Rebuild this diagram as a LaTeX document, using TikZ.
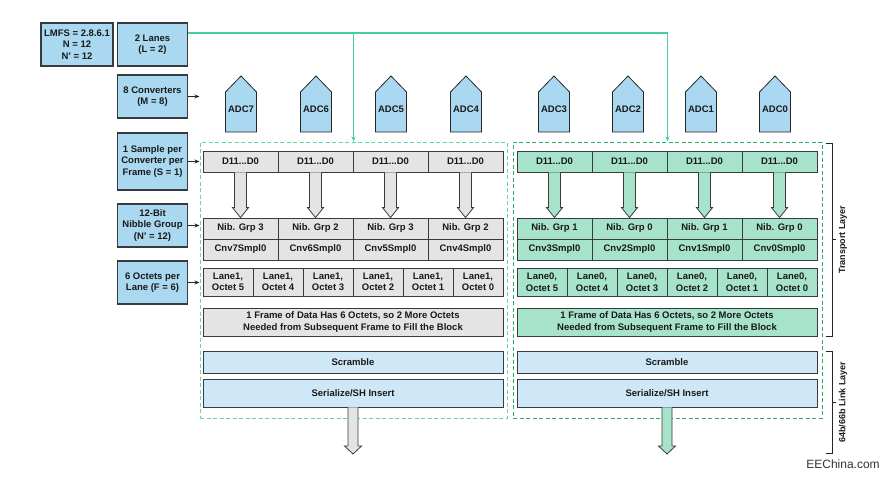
\documentclass[tikz,border=0pt]{standalone}
\usepackage{fontspec}
\setmainfont{Liberation Sans}
\usetikzlibrary{arrows.meta,calc}

\definecolor{edge}{HTML}{363B40}
\definecolor{boxblue}{HTML}{A9D8F0}
\definecolor{linkblue}{HTML}{CFE8F7}
\definecolor{cellgray}{HTML}{E4E4E4}
\definecolor{cellgreen}{HTML}{A6E3CA}
\definecolor{busgreen}{HTML}{45CF98}
\definecolor{dashlite}{HTML}{5FD8A8}
\definecolor{dashdark}{HTML}{2BAA6A}

\tikzset{
  txt/.style={font=\bfseries\fontsize{9.5}{11.5}\selectfont, text=black!90},
  param/.style={txt, draw=edge, fill=boxblue, line width=1.2pt, minimum width=70pt, minimum height=43pt, align=center, inner sep=1pt},
  cell/.style={txt, draw=edge, line width=0.8pt, minimum width=75pt, minimum height=21pt, inner sep=0pt},
  lanecell/.style={cell, minimum width=50pt, minimum height=28pt, align=center},
  wide/.style={cell, minimum width=300pt, align=center},
  adc/.style={draw=black!85, fill=boxblue, line width=0.8pt},
  fat/.style={draw=edge, line width=0.8pt},
  ptr/.style={-{Stealth[length=5pt,width=4pt]}, line width=0.8pt, draw=black!85},
  bus/.style={-{Stealth[length=5pt,width=4pt]}, line width=1.5pt, draw=busgreen},
  lanebox/.style={dashed, dash pattern=on 4pt off 2.5pt, line width=1pt, minimum height=276pt, inner sep=0pt},
  brace/.style={line width=0.9pt, draw=black!85},
  side/.style={font=\bfseries\fontsize{9}{10}\selectfont, text=black!90, rotate=90}
}

\begin{document}
\begin{tikzpicture}[x=1pt,y=-1pt]
\useasboundingbox (0,0) rectangle (888,477);

% parameter boxes
\node[param, minimum width=72pt] (lmfs) at (77,44.5) {LMFS = 2.8.6.1\\N = 12\\N’ = 12};
\node[param] (lanes) at (152.5,44.5) {2 Lanes\\(L = 2)};
\node[param] (conv) at (152.5,96.5) {8 Converters\\(M = 8)};
\node[param, minimum height=57pt] (smpl) at (152.5,161.5) {1 Sample per\\Converter per\\Frame (S = 1)};
\node[param] (nibl) at (152.5,225.5) {12-Bit\\Nibble Group\\(N’ = 12)};
\node[param] (octs) at (152.5,282.5) {6 Octets per\\Lane (F = 6)};

% the two lanes
\node[lanebox, draw=dashlite, minimum width=307pt] (dashL) at (353.5,280) {};
\node[lanebox, draw=dashdark, minimum width=309pt] (dashR) at (667.5,280) {};

\coordinate (bus) at ([yshift=11.5pt]lanes.east);
\draw[bus] (bus) -| (dashR.north);
\draw[bus] (bus -| dashL.north) -- (dashL.north);

\foreach \p in {conv,smpl,nibl,octs}
  \draw[ptr] (\p.east) -- (\p.east -| dashL.west);

% converters
\foreach \n/\x in {7/241,6/316,5/391,4/466,3/554,2/628,1/701,0/775} {
  \filldraw[adc] (\x-15.5,132) -- (\x-15.5,92) -- (\x,76) -- (\x+15.5,92) -- (\x+15.5,132) -- cycle;
  \node[txt] (adc\n) at (\x,109.5) {ADC\n};
}

% lane 1 (gray)
\foreach \i/\g/\k in {0/3/7,1/2/6,2/3/5,3/2/4} {
  \node[cell, fill=cellgray] (dL\i) at (240.5+75*\i,161.5) {D11...D0};
  \node[cell, fill=cellgray] (nL\i) at (240.5+75*\i,228.5) {Nib. Grp \g};
  \node[cell, fill=cellgray] (cL\i) at (240.5+75*\i,249.5) {Cnv\k Smpl0};
  \filldraw[fat, fill=cellgray] ($(dL\i.south)+(-6,0)$) -- ($(nL\i.north)+(-6,-10)$) -- ($(nL\i.north)+(-8,-10)$) -- (nL\i.north)
    -- ($(nL\i.north)+(8,-10)$) -- ($(nL\i.north)+(6,-10)$) -- ($(dL\i.south)+(6,0)$);
}
\foreach \i in {0,...,5} {
  \pgfmathtruncatemacro\o{5-\i}
  \node[lanecell, fill=cellgray] (lL\i) at (228+50*\i,282) {Lane1,\\Octet \o};
}
\node[wide, fill=cellgray, minimum height=28pt] (fL) at (353,322) {1 Frame of Data Has 6 Octets, so 2 More Octets\\Needed from Subsequent Frame to Fill the Block};
\node[wide, fill=linkblue, minimum height=22pt] (sL) at (353,362) {Scramble};
\node[wide, fill=linkblue, minimum height=28pt] (zL) at (353,393) {Serialize/SH Insert};
\coordinate (outL) at (353,454);
\filldraw[fat, fill=cellgray] ($(zL.south)+(-5,0)$) -- ($(outL)+(-5,-8)$) -- ($(outL)+(-8.5,-8)$) -- (outL)
  -- ($(outL)+(8.5,-8)$) -- ($(outL)+(5,-8)$) -- ($(zL.south)+(5,0)$);

% lane 0 (green)
\foreach \i/\g/\k in {0/1/3,1/0/2,2/1/1,3/0/0} {
  \node[cell, fill=cellgreen] (dR\i) at (554.5+75*\i,161.5) {D11...D0};
  \node[cell, fill=cellgreen] (nR\i) at (554.5+75*\i,228.5) {Nib. Grp \g};
  \node[cell, fill=cellgreen] (cR\i) at (554.5+75*\i,249.5) {Cnv\k Smpl0};
  \filldraw[fat, fill=cellgreen] ($(dR\i.south)+(-6,0)$) -- ($(nR\i.north)+(-6,-10)$) -- ($(nR\i.north)+(-8,-10)$) -- (nR\i.north)
    -- ($(nR\i.north)+(8,-10)$) -- ($(nR\i.north)+(6,-10)$) -- ($(dR\i.south)+(6,0)$);
}
\foreach \i in {0,...,5} {
  \pgfmathtruncatemacro\o{5-\i}
  \node[lanecell, fill=cellgreen] (lR\i) at (542+50*\i,282) {Lane0,\\Octet \o};
}
\node[wide, fill=cellgreen, minimum height=28pt] (fR) at (667,322) {1 Frame of Data Has 6 Octets, so 2 More Octets\\Needed from Subsequent Frame to Fill the Block};
\node[wide, fill=linkblue, minimum height=22pt] (sR) at (667,362) {Scramble};
\node[wide, fill=linkblue, minimum height=28pt] (zR) at (667,393) {Serialize/SH Insert};
\coordinate (outR) at (667,454);
\filldraw[fat, fill=cellgreen] ($(zR.south)+(-5,0)$) -- ($(outR)+(-5,-8)$) -- ($(outR)+(-8.5,-8)$) -- (outR)
  -- ($(outR)+(8.5,-8)$) -- ($(outR)+(5,-8)$) -- ($(zR.south)+(5,0)$);

% layers
\draw[brace] (826,143) -- (832,143) -- (832,336) -- (826,336);
\draw[brace] (832,239.5) -- (836,239.5);
\node[side] (tlayer) at (843,239.5) {Transport Layer};
\draw[brace] (826,351) -- (832,351) -- (832,453) -- (826,453);
\draw[brace] (832,402) -- (836,402);
\node[side] (llayer) at (843,402) {64b/66b Link Layer};

\node[font=\fontsize{12}{14}\selectfont, text=black!80] (src) at (843,464) {EEChina.com};
\end{tikzpicture}
\end{document}
